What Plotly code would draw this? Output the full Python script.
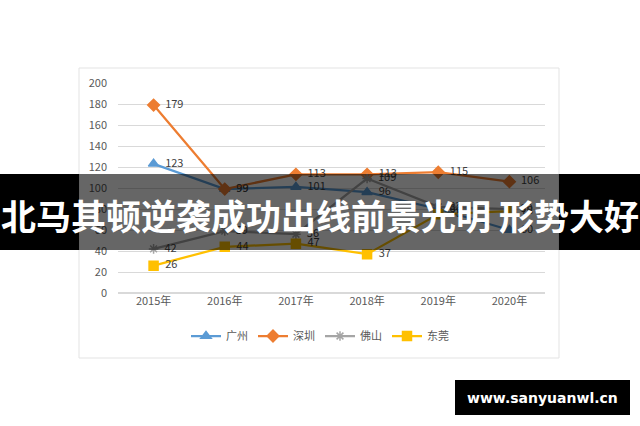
import plotly.graph_objects as go

years = ["2015年", "2016年", "2017年", "2018年", "2019年", "2020年"]
guangzhou = [123, 99, 101, 96, 80, 60]
shenzhen = [179, 99, 113, 113, 115, 106]
foshan = [42, 59, 56, 109, 82, 80]
dongguan = [26, 44, 47, 37, 75, 78]

series = [
    ("广州", guangzhou, "#5B9BD5", "triangle-up", 9),
    ("深圳", shenzhen, "#ED7D31", "diamond", 9),
    ("佛山", foshan, "#A5A5A5", "asterisk-open", 8),
    ("东莞", dongguan, "#FFC000", "square", 9),
]

title_text = "北马其顿逆袭成功出线前景光明 形势大好"
watermark = "www.sanyuanwl.cn"

FONT = "Noto Sans CJK SC, Noto Sans, sans-serif"

fig = go.Figure()
for name, vals, color, sym, ms in series:
    fig.add_trace(go.Scatter(
        x=years, y=vals, name=name, mode="lines+markers+text",
        line=dict(color=color, width=2.25),
        marker=dict(symbol=sym, size=ms, color=color,
                    line=dict(color=color, width=1.5)),
        text=["  " + str(v) for v in vals], textposition="middle right",
        textfont=dict(size=11, color="#404040", family=FONT),
        cliponaxis=False,
    ))

W, H = 640, 426
L, R, T, B = 118, 95, 83, 133
pw, ph = W - L - R, H - T - B

def px(x):
    return (x - L) / pw

def py(y):
    return (H - B - y) / ph

shapes = [
    dict(type="rect", xref="paper", yref="paper", x0=px(79), x1=px(559),
         y0=py(358), y1=py(68), line=dict(color="#E3E3E3", width=1),
         fillcolor="rgba(0,0,0,0)", layer="below"),
    dict(type="rect", xref="paper", yref="paper", x0=px(79), x1=px(559),
         y0=py(250), y1=py(174), line=dict(width=0),
         fillcolor="rgba(0,0,0,0.6)", layer="above"),
    dict(type="rect", xref="paper", yref="paper", x0=px(0), x1=px(79),
         y0=py(250), y1=py(174), line=dict(width=0),
         fillcolor="black", layer="above"),
    dict(type="rect", xref="paper", yref="paper", x0=px(559), x1=px(640),
         y0=py(250), y1=py(174), line=dict(width=0),
         fillcolor="black", layer="above"),
    dict(type="rect", xref="paper", yref="paper", x0=px(455), x1=px(630),
         y0=py(415), y1=py(380), line=dict(width=0),
         fillcolor="black", layer="above"),
]

annotations = [
    dict(text="<b>" + title_text + "</b>", xref="paper", yref="paper",
         x=px(320), y=py(214), xanchor="center", yanchor="middle",
         showarrow=False, font=dict(size=35, color="white", family="Noto Sans CJK SC")),
    dict(text="<b>" + watermark + "</b>", xref="paper", yref="paper",
         x=px(542), y=py(398), xanchor="center", yanchor="middle",
         showarrow=False, font=dict(size=14, color="white", family="DejaVu Sans")),
]

fig.update_layout(
    width=W, height=H,
    margin=dict(l=L, r=R, t=T, b=B),
    paper_bgcolor="white", plot_bgcolor="white",
    font=dict(family=FONT, size=11, color="#595959"),
    showlegend=True,
    legend=dict(orientation="h", x=px(320), xanchor="center", y=py(336),
                yanchor="middle", font=dict(size=11, color="#595959"),
                itemwidth=30, tracegroupgap=0),
    xaxis=dict(range=[-0.5, 5.5], showgrid=False, showline=False, ticks="",
               tickfont=dict(size=11)),
    yaxis=dict(range=[0, 200], dtick=20, showgrid=True, gridcolor="#D9D9D9",
               gridwidth=1, zeroline=True, zerolinecolor="#D9D9D9",
               showline=False, ticks="", ticklabelstandoff=10, tickfont=dict(size=11)),
    shapes=shapes, annotations=annotations,
)

fig.write_html("out.html", config={"displayModeBar": False},
               post_script="document.body.style.margin='0';document.body.style.overflow='hidden';")
